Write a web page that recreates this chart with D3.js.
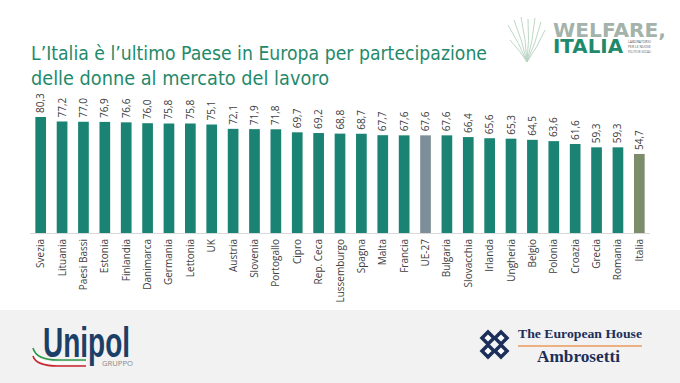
<!DOCTYPE html>
<html>
<head>
<meta charset="utf-8">
<script src="https://cdn.jsdelivr.net/npm/d3@7"></script>
<style>
  body { margin: 0; background: #fff; }
  svg { display: block; }
</style>
</head>
<body>
<svg id="chart" width="680" height="383"></svg>
<script>
const countries = ["Svezia", "Lituania", "Paesi Bassi", "Estonia", "Finlandia", "Danimarca", "Germania",
  "Lettonia", "UK", "Austria", "Slovenia", "Portogallo", "Cipro", "Rep. Ceca", "Lussemburgo", "Spagna",
  "Malta", "Francia", "UE-27", "Bulgaria", "Slovacchia", "Irlanda", "Ungheria", "Belgio", "Polonia",
  "Croazia", "Grecia", "Romania", "Italia"];
const values = [80.3, 77.2, 77.0, 76.9, 76.6, 76.0, 75.8, 75.8, 75.1, 72.1, 71.9, 71.8, 69.7, 69.2, 68.8,
  68.7, 67.7, 67.6, 67.6, 67.6, 66.4, 65.6, 65.3, 64.5, 63.6, 61.6, 59.3, 59.3, 54.7];
const titleLines = ["L’Italia è l’ultimo Paese in Europa per partecipazione", "delle donne al mercato del lavoro"];

const svg = d3.select("#chart");
const data = countries.map((c, i) => ({ name: c, value: values[i] }));

// footer band
svg.append("rect").attr("x", 0).attr("y", 310).attr("width", 680).attr("height", 73).attr("fill", "#f2f2f2");

// title
const titleLen = [456, 298];
svg.append("g").selectAll("text").data(titleLines).join("text")
    .attr("x", 31)
    .attr("y", (d, i) => 60 + i * 25)
    .attr("textLength", (d, i) => titleLen[i])
    .attr("lengthAdjust", "spacingAndGlyphs")
    .style("font-family", "'DejaVu Sans', sans-serif")
    .style("font-size", "19px")
    .style("fill", "#1f8a6b")
    .text(d => d);

const x = d3.scaleBand()
    .domain(countries)
    .range([30, 650])
    .paddingInner(0.5)
    .paddingOuter(0.25);

const y = d3.scaleLinear()
    .domain([0, 80.3])
    .range([233, 117]);

const color = d => d.name === "UE-27" ? "#7d8e99" : d.name === "Italia" ? "#7d8c6a" : "#1b8373";

svg.append("g").selectAll("rect").data(data).join("rect")
    .attr("x", d => x(d.name))
    .attr("y", d => y(d.value))
    .attr("width", x.bandwidth())
    .attr("height", d => y(0) - y(d.value))
    .attr("fill", color);

// baseline
svg.append("line")
    .attr("x1", 30).attr("x2", 650)
    .attr("y1", y(0) + 0.5).attr("y2", y(0) + 0.5)
    .attr("stroke", "#d9d9d9");

const font = "'Open Sans', 'DejaVu Sans', sans-serif";

// value labels
svg.append("g").selectAll("text").data(data).join("text")
    .attr("transform", d => `translate(${x(d.name) + x.bandwidth() / 2 + 3.5},${y(d.value) - 4}) rotate(-90)`)
    .style("font-family", font)
    .style("font-size", "10px")
    .style("fill", "#404040")
    .text(d => d.value.toFixed(1).replace(".", ","));

// category labels
svg.append("g").selectAll("text").data(data).join("text")
    .attr("transform", d => `translate(${x(d.name) + x.bandwidth() / 2 + 3.5},${y(0) + 6}) rotate(-90)`)
    .attr("text-anchor", "end")
    .style("font-family", font)
    .style("font-size", "10px")
    .style("fill", "#404040")
    .text(d => d.name);

// Welfare Italia logo (text)
const wl = svg.append("g");
wl.append("text").attr("x", 553).attr("y", 37)
    .attr("textLength", 113).attr("lengthAdjust", "spacingAndGlyphs")
    .style("font-family", "'DejaVu Sans', sans-serif").style("font-weight", "bold")
    .style("font-size", "20px").style("fill", "#a3b3ab").text("WELFARE,");
wl.append("text").attr("x", 553).attr("y", 53)
    .attr("textLength", 70).attr("lengthAdjust", "spacingAndGlyphs")
    .style("font-family", "'DejaVu Sans', sans-serif").style("font-weight", "bold")
    .style("font-size", "20px").style("fill", "#1f8a6b").text("ITALIA");
["LABORATORIO", "PER LE NUOVE", "POLITICHE SOCIALI"].forEach((t, i) => {
  wl.append("text").attr("x", 628).attr("y", 43 + i * 5)
      .attr("textLength", 23).attr("lengthAdjust", "spacingAndGlyphs")
      .style("font-family", font).style("font-size", "3.5px").style("fill", "#555").text(t);
});
// plant sketch
const plant = wl.append("g").attr("stroke", "#b5d1bf").attr("stroke-width", 0.9).attr("fill", "none");
[[508, 25], [514, 20], [521, 17], [528, 19], [535, 18], [541, 22], [545, 30], [510, 40]].forEach(([px, py]) => {
  plant.append("path").attr("d", `M527,62 Q${(527 + px) / 2 + 2},${(62 + py) / 2} ${px},${py}`);
});

// Unipol logo
const ul = svg.append("g");
ul.append("text").attr("x", 43).attr("y", 357)
    .attr("textLength", 87).attr("lengthAdjust", "spacingAndGlyphs")
    .style("font-family", "'Liberation Sans', Arial, sans-serif")
    .style("font-weight", "bold").style("font-size", "42px").style("fill", "#1c3f68").text("Unipol");
ul.append("path").attr("d", "M33,348 Q36,360 58,360 L86,360").attr("stroke", "#2e9a48").attr("stroke-width", 1.6).attr("fill", "none");
ul.append("path").attr("d", "M33,352 Q36,363 58,363 L86,363").attr("stroke", "#ffffff").attr("stroke-width", 1.6).attr("fill", "none");
ul.append("path").attr("d", "M33,356 Q36,366 58,366 L86,366").attr("stroke", "#c8222c").attr("stroke-width", 1.6).attr("fill", "none");
ul.append("text").attr("x", 102).attr("y", 366)
    .attr("textLength", 31).attr("lengthAdjust", "spacingAndGlyphs")
    .style("font-family", font).style("font-size", "7px").style("fill", "#888").text("GRUPPO");

// The European House - Ambrosetti logo
const el = svg.append("g");
el.append("text").attr("x", 518).attr("y", 338)
    .attr("textLength", 124).attr("lengthAdjust", "spacingAndGlyphs")
    .style("font-family", "'Liberation Serif', 'DejaVu Serif', serif").style("font-weight", "bold")
    .style("font-size", "13px").style("fill", "#1c2f5a").text("The European House");
el.append("line").attr("x1", 518).attr("x2", 642).attr("y1", 346).attr("y2", 346)
    .attr("stroke", "#ec9a5a").attr("stroke-width", 1.5);
el.append("text").attr("x", 537).attr("y", 362)
    .attr("textLength", 83).attr("lengthAdjust", "spacingAndGlyphs")
    .style("font-family", "'Liberation Serif', 'DejaVu Serif', serif").style("font-weight", "bold")
    .style("font-size", "16px").style("fill", "#1c2f5a").text("Ambrosetti");
const mark = el.append("g").attr("fill", "#fff").attr("stroke", "#1c2f5a").attr("stroke-width", 3.5);
[[488, 338], [501, 338], [488, 351], [501, 351]].forEach(([cx, cy]) => {
  mark.append("path").attr("d", `M${cx - 6},${cy} L${cx},${cy - 6} L${cx + 6},${cy} L${cx},${cy + 6} Z`);
});
</script>
</body>
</html>
